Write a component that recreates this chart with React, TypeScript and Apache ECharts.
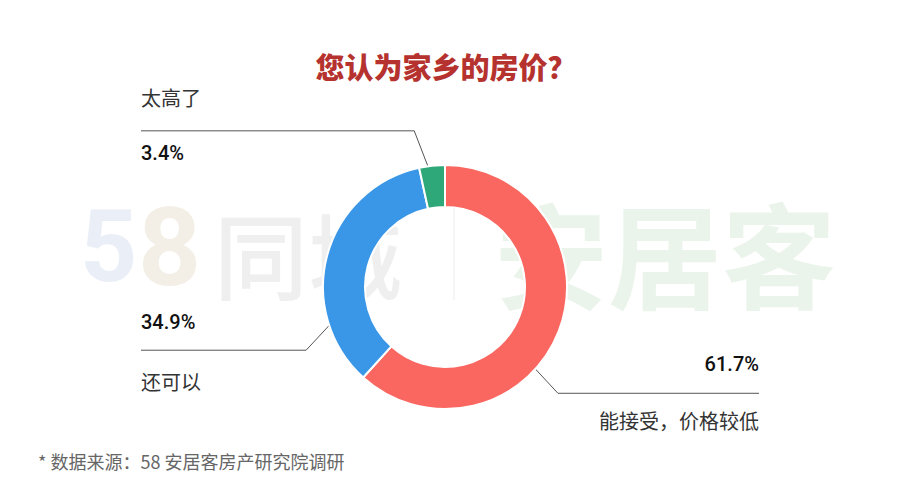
import React, { useEffect, useRef } from "react";
import * as echarts from "echarts";

// ---- data ----
const categories = ["能接受，价格较低", "还可以", "太高了"];
const values = [61.7, 34.9, 3.4];
const colors = ["#fa6660", "#3a97e8", "#2ea878"];
const nameOnTop = [false, false, true];
const titleText = "您认为家乡的房价？";
const footnote = "* 数据来源：58 安居客房产研究院调研";

// ---- layout / style ----
const W = 900;
const CX = 445;
const CY = 287;
const EDGE = 141;
// label line: start angle (deg clockwise from top), start radius, elbow offset, text distances
const LABEL_GEOM = [
  { angle: 132, r: 117, elbow: [26, 28], dTop: 29, dBot: 27 },
  { angle: 253, r: 117, elbow: [-27, 29], dTop: 28, dBot: 31 },
  { angle: 353, r: 113, elbow: [-17, -44], dTop: 33, dBot: 22 },
];

const rich: any = {
  name: {
    fontSize: 20,
    lineHeight: 30,
    color: "#333",
    fontFamily: "Noto Sans CJK SC",
  },
  val: {
    fontSize: 20,
    lineHeight: 30,
    color: "#111",
    fontWeight: 500,
    fontFamily: "Roboto",
  },
};
LABEL_GEOM.forEach((g, i) => {
  rich["gap" + i] = { fontSize: 1, lineHeight: g.dTop + g.dBot - 30, height: g.dTop + g.dBot - 30 };
});

export default function App() {
  const ref = useRef<HTMLDivElement>(null);
  useEffect(() => {
    const chart = echarts.init(ref.current!, null, { renderer: "svg" });
    const option: any = {
      animation: false,
      backgroundColor: "#ffffff",
      title: {
        text: titleText,
        left: 441,
        top: 46,
        textAlign: "center",
        textStyle: {
          fontSize: 29,
          fontWeight: 900,
          color: "#b5322e",
          fontFamily: "Noto Sans CJK SC",
        },
      },
      graphic: [
        {
          type: "text",
          x: 80,
          y: 246,
          z: 0,
          style: {
            text: "5",
            fontSize: 100,
            fontWeight: 700,
            fontFamily: "Roboto",
            textVerticalAlign: "middle",
            fill: "#eaeef7",
          },
        },
        {
          type: "text",
          x: 138,
          y: 247,
          z: 0,
          style: {
            text: "8",
            fontSize: 110,
            fontWeight: 700,
            fontFamily: "Roboto",
            textVerticalAlign: "middle",
            fill: "#f3efe6",
          },
        },
        {
          type: "text",
          x: 214,
          y: 252,
          z: 0,
          style: {
            text: "同城",
            fontSize: 94,
            fontWeight: 500,
            fontFamily: "Noto Sans CJK SC",
            textVerticalAlign: "middle",
            fill: "#efefef",
          },
        },
        {
          type: "line",
          z: 0,
          shape: { x1: 454, y1: 198, x2: 454, y2: 300 },
          style: { stroke: "#ececec", lineWidth: 1 },
        },
        {
          type: "text",
          x: 494,
          y: 250,
          z: 0,
          style: {
            text: "安居客",
            fontSize: 114,
            fontWeight: 700,
            fontFamily: "Noto Sans CJK SC",
            textVerticalAlign: "middle",
            fill: "#ebf4eb",
          },
        },
        {
          type: "text",
          x: 38,
          y: 461,
          z: 0,
          style: {
            text: footnote,
            fontSize: 18,
            fontFamily: "Noto Sans CJK SC",
            textVerticalAlign: "middle",
            fill: "#666",
          },
        },
      ],
      series: [
        {
          type: "pie",
          z: 5,
          center: [CX, CY],
          radius: [80, 122],
          startAngle: 90,
          clockwise: true,
          avoidLabelOverlap: false,
          itemStyle: { borderColor: "#ffffff", borderWidth: 2 },
          label: {
            show: true,
            position: "outside",
            formatter: (p: any) => {
              const i = p.dataIndex;
              const v = `${values[i]}%`;
              const n = categories[i];
              return nameOnTop[i]
                ? `{name|${n}}\n{gap${i}| }\n{val|${v}}`
                : `{val|${v}}\n{gap${i}| }\n{name|${n}}`;
            },
            rich,
          },
          labelLine: {
            show: true,
            length: 20,
            length2: 20,
            lineStyle: { color: "#555", width: 1 },
          },
          labelLayout: (p: any) => {
            const i = p.dataIndex;
            const g = LABEL_GEOM[i];
            const a = (g.angle * Math.PI) / 180;
            const sx = CX + g.r * Math.sin(a);
            const sy = CY - g.r * Math.cos(a);
            const ex = sx + g.elbow[0];
            const ey = sy + g.elbow[1];
            const isLeft = ex < CX;
            const edgeX = isLeft ? EDGE : W - EDGE;
            return {
              x: edgeX,
              y: ey - g.dTop - 15,
              align: isLeft ? "left" : "right",
              verticalAlign: "top",
              labelLinePoints: [
                [sx, sy],
                [ex, ey],
                [edgeX, ey],
              ],
            };
          },
          data: categories.map((c, i) => ({
            name: c,
            value: values[i],
            itemStyle: { color: colors[i] },
          })),
        },
      ],
    };
    chart.setOption(option);
    return () => chart.dispose();
  }, []);
  return (
    <div
      ref={ref}
      style={{ position: "fixed", left: 0, top: 0, width: 900, height: 500, background: "#fff" }}
    />
  );
}
